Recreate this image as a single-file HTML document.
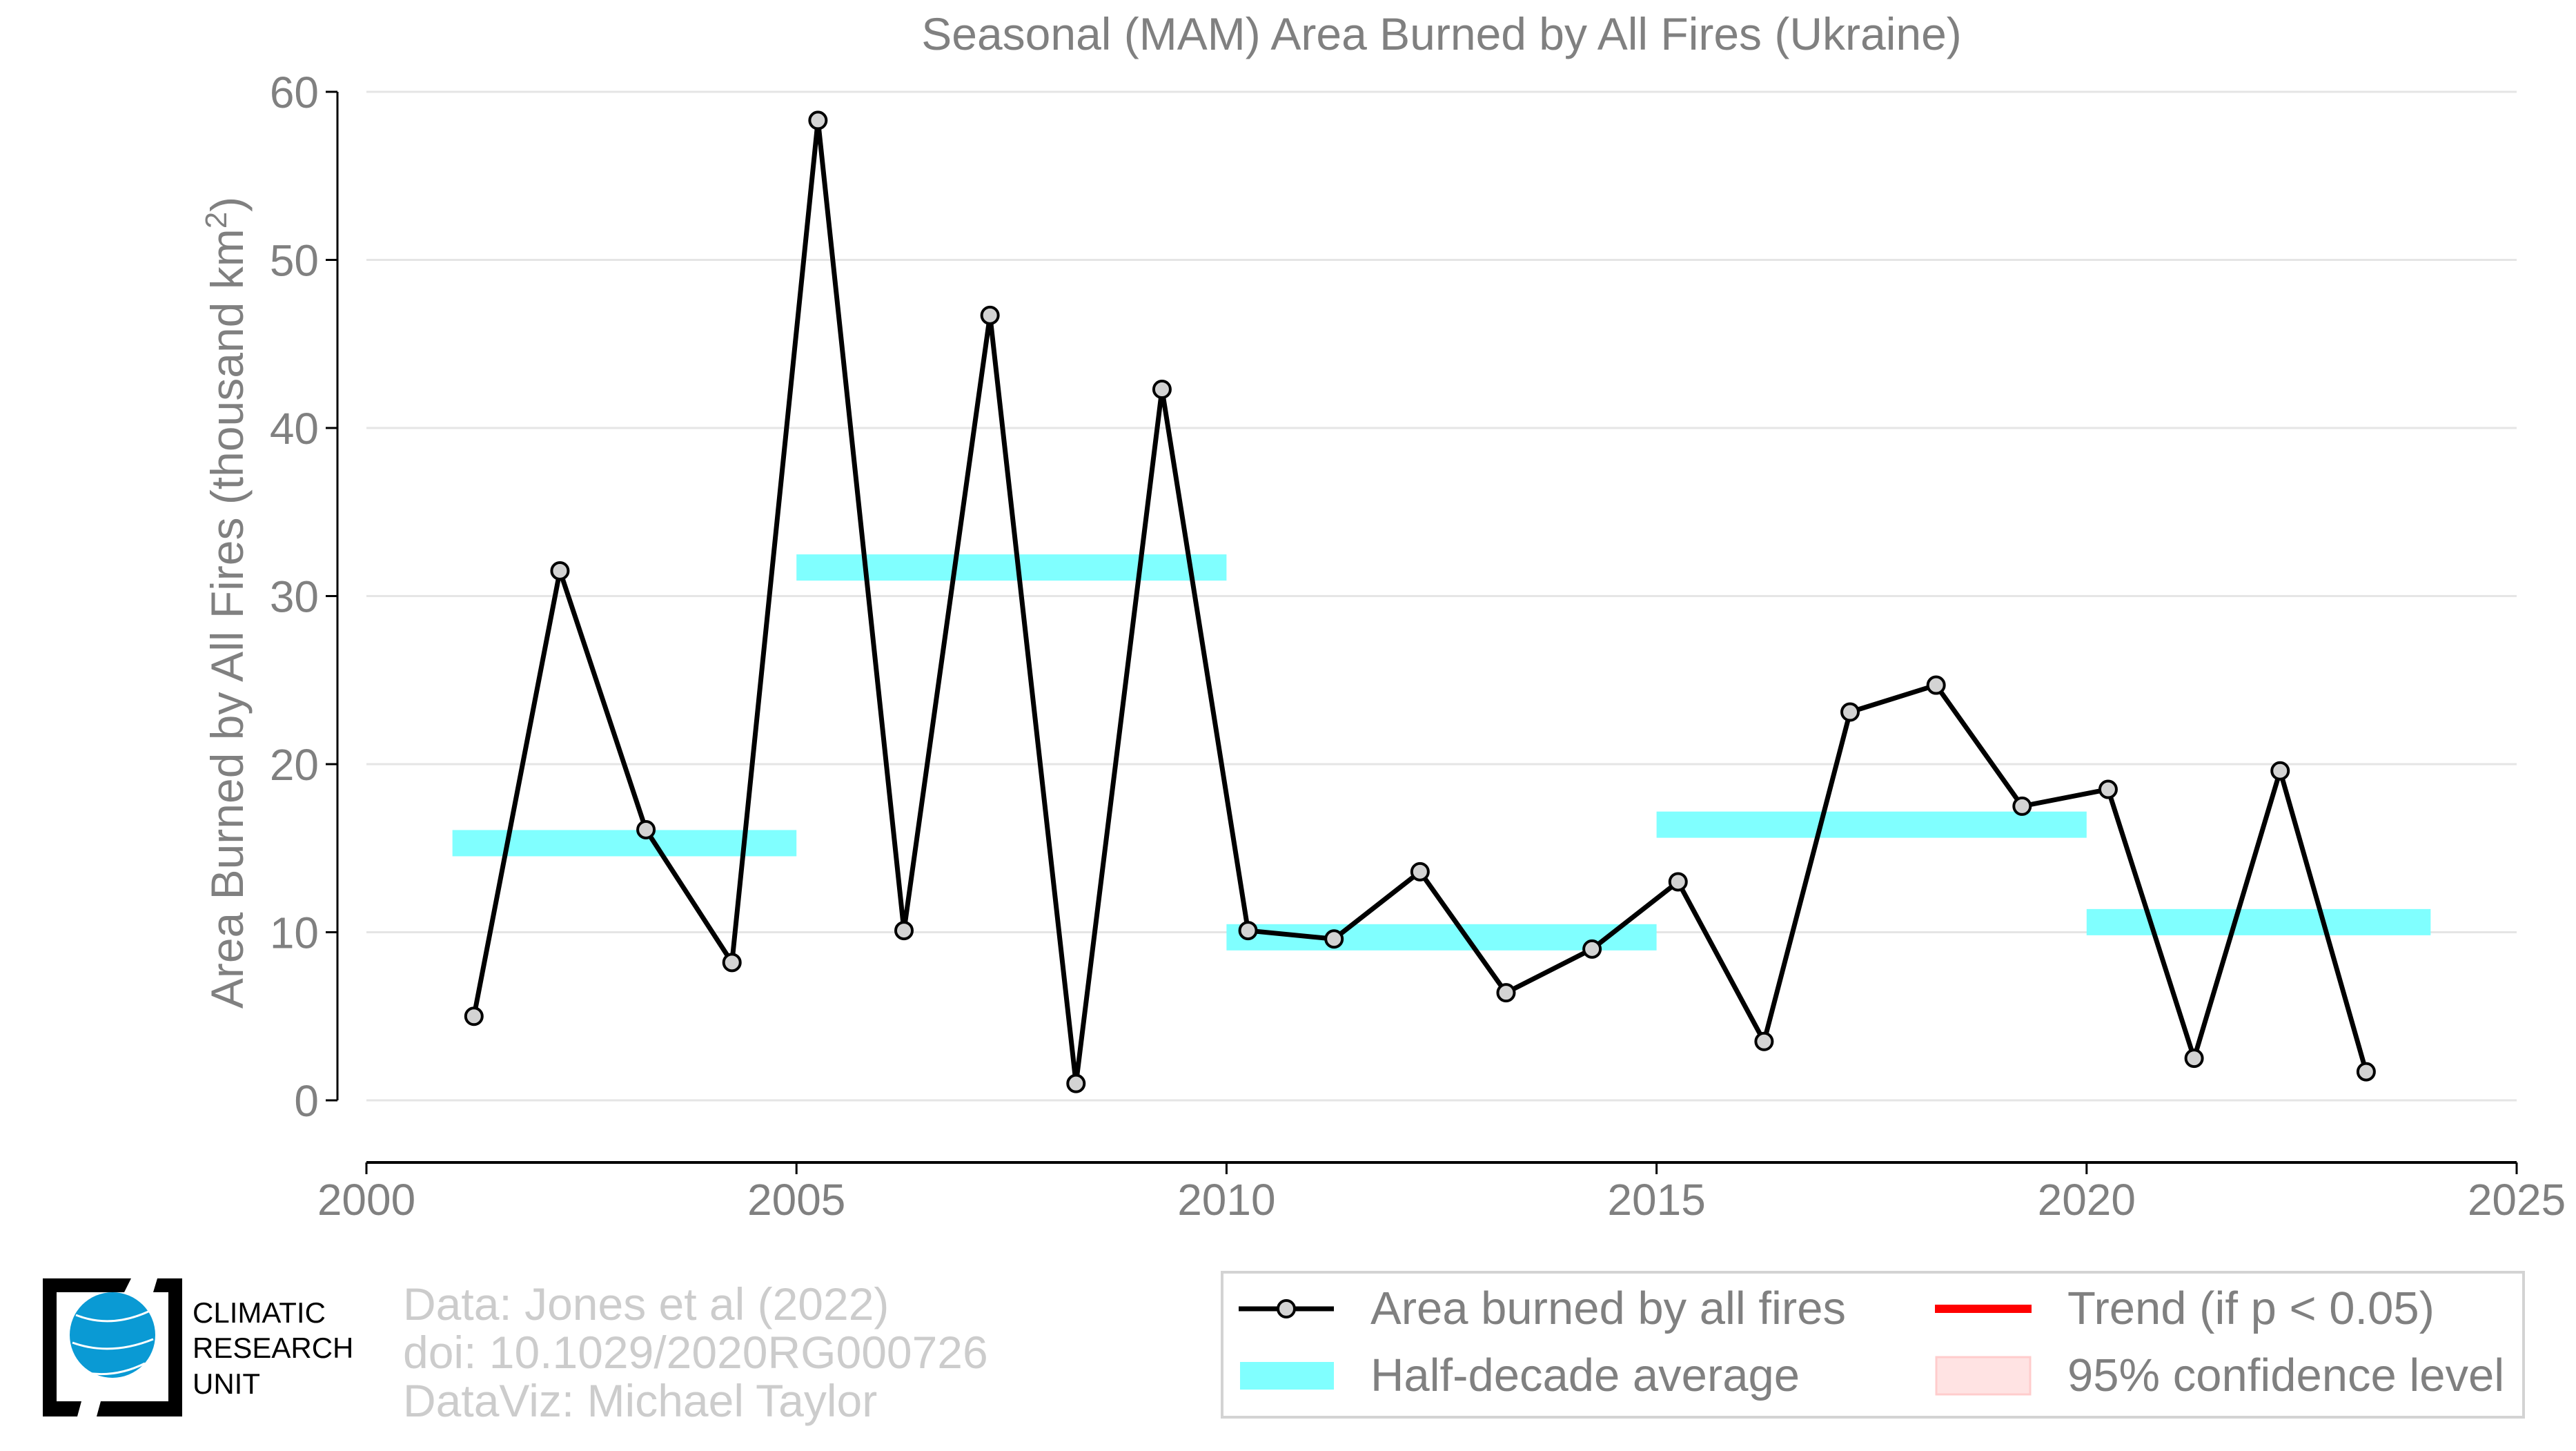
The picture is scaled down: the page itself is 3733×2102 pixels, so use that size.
<!DOCTYPE html>
<html><head><meta charset="utf-8"><style>
html,body{margin:0;padding:0;background:#fff;}
svg{display:block;font-family:"Liberation Sans",sans-serif;}
</style></head><body>
<svg id="chart" width="3733" height="2102" viewBox="0 0 3733 2102">
<text x="2089" y="72" text-anchor="middle" font-size="66" fill="#808080">Seasonal (MAM) Area Burned by All Fires (Ukraine)</text>
<g id="grid"></g>
<g id="bars"></g>
<g id="series"></g>
<g id="axes"></g>
<text transform="translate(352,873) rotate(-90)" text-anchor="middle" font-size="66" fill="#808080">Area Burned by All Fires (thousand km<tspan baseline-shift="super" font-size="44">2</tspan>)</text>

<g>
<path d="M62 1852 H190 L180 1872 H82 V2030 H118 L112 2052 H62 Z" fill="#000"/>
<path d="M228 1852 H264 V2052 H140 L146 2030 H244 V1872 H222 Z" fill="#000"/>
<circle cx="163" cy="1934" r="62" fill="#0a9ad4"/>
<path d="M110 1905 Q160 1925 215 1900 M105 1945 Q160 1965 222 1940 M108 1985 Q160 2000 210 1975" stroke="#fff" stroke-width="3" fill="none"/>
<text x="279" y="1916" font-size="42" fill="#000">CLIMATIC</text>
<text x="279" y="1967" font-size="42" fill="#000">RESEARCH</text>
<text x="279" y="2019" font-size="42" fill="#000">UNIT</text>
</g>
<g font-size="66" fill="#cccccc">
<text x="584" y="1912">Data: Jones et al (2022)</text>
<text x="584" y="1982">doi: 10.1029/2020RG000726</text>
<text x="584" y="2052">DataViz: Michael Taylor</text>
</g>
<g>
<rect x="1771" y="1843" width="1886" height="210" fill="#fff" stroke="#d3d3d3" stroke-width="4"/>
<g>
<line x1="1795" y1="1896" x2="1933" y2="1896" stroke="#000" stroke-width="7"/>
<circle cx="1864" cy="1896" r="12" fill="#d3d3d3" stroke="#000" stroke-width="4"/>
<text x="1986" y="1918" font-size="67" fill="#808080">Area burned by all fires</text>
</g>
<g>
<rect x="2804" y="1890" width="140" height="12" fill="#ff0000"/>
<text x="2996" y="1918" font-size="67" fill="#808080">Trend (if p &lt; 0.05)</text>
</g>
<g>
<rect x="1797" y="1973" width="136" height="40" fill="#80ffff"/>
<text x="1986" y="2015" font-size="67" fill="#808080">Half-decade average</text>
</g>
<g>
<rect x="2806" y="1966" width="136" height="54" fill="#ffe3e3" stroke="#ffcccc" stroke-width="3"/>
<text x="2996" y="2015" font-size="67" fill="#808080">95% confidence level</text>
</g>
</g>
</svg>
<script>
const years = [2001.25,2002.25,2003.25,2004.25,2005.25,2006.25,2007.25,2008.25,2009.25,2010.25,2011.25,2012.25,2013.25,2014.25,2015.25,2016.25,2017.25,2018.25,2019.25,2020.25,2021.25,2022.25,2023.25];
const values = [5.0,31.5,16.1,8.2,58.3,10.1,46.7,1.0,42.3,10.1,9.6,13.6,6.4,9.0,13.0,3.5,23.1,24.7,17.5,18.5,2.5,19.6,1.7];
const halfStart = [2001,2005,2010,2015,2020];
const halfEnd = [2005,2010,2015,2020,2024];
const halfValues = [15.3,31.7,9.7,16.4,10.6];
const yTicks = [0,10,20,30,40,50,60];
const xTicks = [2000,2005,2010,2015,2020,2025];

const NS = "http://www.w3.org/2000/svg";
const X0 = 531, X1 = 3647, Y0 = 1594, Y60 = 133;
const xs = v => X0 + (v - 2000) / 25 * (X1 - X0);
const ys = v => Y0 - v / 60 * (Y0 - Y60);
function mk(tag, attrs, parent) {
  const e = document.createElementNS(NS, tag);
  for (const k in attrs) e.setAttribute(k, attrs[k]);
  parent.appendChild(e);
  return e;
}
const grid = document.getElementById('grid');
const axes = document.getElementById('axes');
const bars = document.getElementById('bars');
const series = document.getElementById('series');

yTicks.forEach(t => {
  const g = mk('line', {x1: X0, x2: X1, y1: ys(t), y2: ys(t), stroke: '#e5e5e5', 'stroke-width': 3}, grid);
  
  
  const tk = mk('line', {x1: 472, x2: 489, y1: ys(t), y2: ys(t), stroke: '#000', 'stroke-width': 3}, axes);
  
  
  const lb = mk('text', {x: 462, y: ys(t) + 23, 'text-anchor': 'end', 'font-size': 64, fill: '#808080'}, axes);
  lb.textContent = t;
  
  
});
const ya = mk('line', {x1: 489, x2: 489, y1: ys(60), y2: ys(0), stroke: '#000', 'stroke-width': 3}, axes);


const xa = mk('line', {x1: X0, x2: X1, y1: 1684, y2: 1684, stroke: '#000', 'stroke-width': 4}, axes);


xTicks.forEach(t => {
  const tk = mk('line', {x1: xs(t), x2: xs(t), y1: 1684, y2: 1701, stroke: '#000', 'stroke-width': 3}, axes);
  
  
  const lb = mk('text', {x: xs(t), y: 1760, 'text-anchor': 'middle', 'font-size': 64, fill: '#808080'}, axes);
  lb.textContent = t;
  
  
});
halfValues.forEach((v, i) => {
  const r = mk('rect', {x: xs(halfStart[i]), width: xs(halfEnd[i]) - xs(halfStart[i]), y: ys(v) - 19, height: 38, fill: '#80ffff'}, bars);
  
  
});
const pl = mk('polyline', {points: years.map((y, i) => xs(y) + ',' + ys(values[i])).join(' '), fill: 'none', stroke: '#000', 'stroke-width': 7, 'stroke-linejoin': 'round'}, series);


years.forEach((y, i) => {
  const c = mk('circle', {cx: xs(y), cy: ys(values[i]), r: 12, fill: '#d3d3d3', stroke: '#000', 'stroke-width': 4}, series);
  
  
});
</script>
</body></html>
